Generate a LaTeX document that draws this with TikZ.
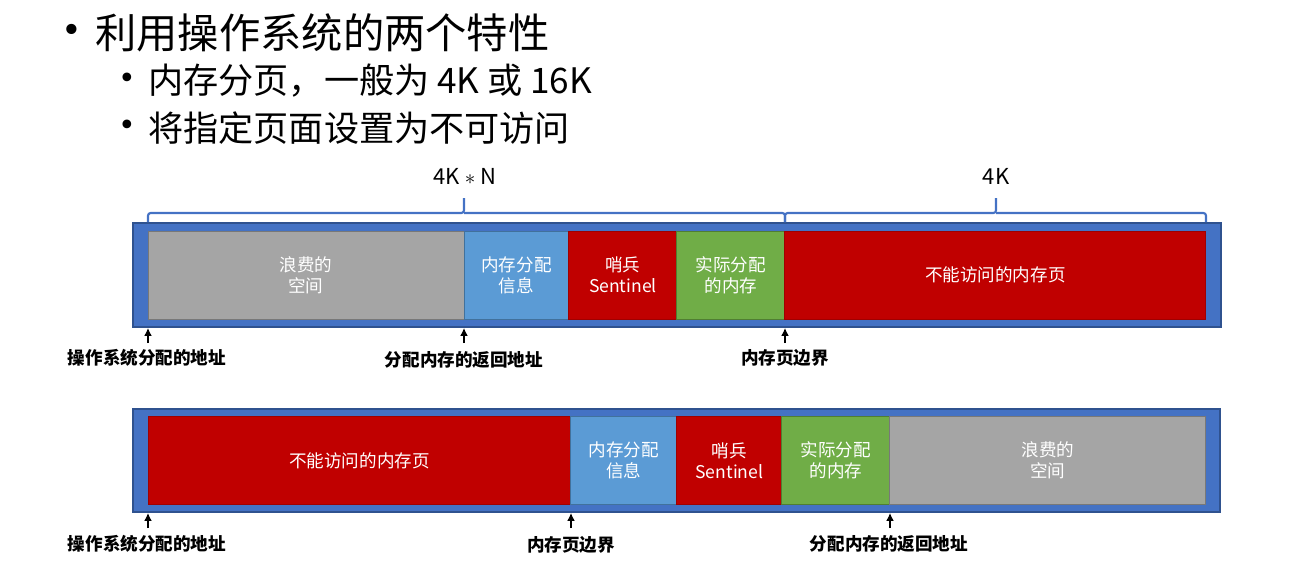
\documentclass[tikz,border=0pt]{standalone}
\usepackage{fontspec}
\setmainfont{Noto Sans CJK SC}
\newfontfamily\bulletfont{DejaVu Sans}
\usetikzlibrary{positioning}
\usetikzlibrary{arrows.meta}

\definecolor{barblue}{HTML}{4472C4}
\definecolor{barline}{HTML}{2F528F}
\definecolor{wastegray}{HTML}{A5A5A5}
\definecolor{wastegrayline}{HTML}{787878}
\definecolor{infoblue}{HTML}{5B9BD5}
\definecolor{infoblueline}{HTML}{41719C}
\definecolor{pagered}{HTML}{C00000}
\definecolor{pageredline}{HTML}{A00000}
\definecolor{usedgreen}{HTML}{70AD47}
\definecolor{usedgreenline}{HTML}{507E32}

\begin{document}
\begin{tikzpicture}[x=0.02cm, y=-0.02cm,
    bar/.style={draw=barline, fill=barblue, line width=0.6pt},
    cell/.style={draw=#1line, fill=#1, line width=0.5pt, minimum height=1.76cm,
        inner sep=0pt, outer sep=0pt, text=white, align=center,
        font=\fontsize{10}{12}\selectfont},
    brace/.style={draw=barblue, line width=1.2pt, rounded corners=1.5pt},
    ptr/.style={-{Latex[length=4.5pt,width=4.5pt]}, line width=0.8pt},
    addr/.style={font=\fontsize{10}{12}\selectfont\bfseries, inner sep=1pt, anchor=north},
    size/.style={font=\fontsize{12.5}{15}\selectfont},
    mark1/.style={font=\bulletfont\fontsize{20}{24}\selectfont, inner sep=0pt},
    mark2/.style={font=\bulletfont\fontsize{17}{20}\selectfont, inner sep=0pt},
    lvlone/.style={font=\fontsize{23.5}{28}\selectfont, inner sep=0pt, anchor=west},
    lvltwo/.style={font=\fontsize{20}{24}\selectfont, inner sep=0pt, anchor=west}]

    \useasboundingbox (0,0) rectangle (1292,572);

    % bullet text
    \node[mark1] (dot1) at (72,33) {•};
    \node[lvlone] (title) at (95,33) {利用操作系统的两个特性};
    \node[mark2] (dot2) at (127,81) {•};
    \node[lvltwo] (pagesize) at (148,81) {内存分页，一般为 4K 或 16K};
    \node[mark2] (dot3) at (127,128) {•};
    \node[lvltwo] (noaccess) at (148,128) {将指定页面设置为不可访问};

    % top layout
    \draw[bar] (133,223) rectangle (1221,327);
    \node[cell=wastegray, minimum width=6.32cm, anchor=west] (waste) at (148,275) {浪费的\\空间};
    \node[cell=infoblue, minimum width=2.10cm, right=0pt of waste] (info) {内存分配\\信息};
    \node[cell=pagered, minimum width=2.16cm, right=0pt of info] (sentinel) {哨兵\\Sentinel};
    \node[cell=usedgreen, minimum width=2.16cm, right=0pt of sentinel] (used) {实际分配\\的内存};
    \node[cell=pagered, minimum width=8.42cm, right=0pt of used] (guard) {不能访问的内存页};

    % braces
    \draw[brace] (148,222) |- (464,213) -- (464,198);
    \draw[brace] (464,213) -| (785,222);
    \draw[brace] (785,222) |- (996,213) -- (996,198);
    \draw[brace] (996,213) -| (1206,222);
    \node[size] (nsize) at (465,176) {4K $*$ N};
    \node[size] (onesize) at (996,176) {4K};

    % top pointers
    \coordinate (p1) at (148,328);
    \coordinate (p2) at (464,328);
    \coordinate (p3) at (785,328);
    \node[addr] (osaddr) at (147,347) {操作系统分配的地址};
    \node[addr] (retaddr) at (464,349) {分配内存的返回地址};
    \node[addr] (border) at (785,347) {内存页边界};
    \draw[ptr] (148,343) -- (p1);
    \draw[ptr] (464,343) -- (p2);
    \draw[ptr] (785,343) -- (p3);

    % bottom layout
    \draw[bar] (133,409) rectangle (1220,512);
    \node[cell=pagered, minimum width=8.46cm, anchor=west] (guardb) at (148,460.5) {不能访问的内存页};
    \node[cell=infoblue, minimum width=2.12cm, right=0pt of guardb] (infob) {内存分配\\信息};
    \node[cell=pagered, minimum width=2.10cm, right=0pt of infob] (sentinelb) {哨兵\\Sentinel};
    \node[cell=usedgreen, minimum width=2.16cm, right=0pt of sentinelb] (usedb) {实际分配\\的内存};
    \node[cell=wastegray, minimum width=6.32cm, right=0pt of usedb] (wasteb) {浪费的\\空间};

    % bottom pointers
    \coordinate (q1) at (148,513);
    \coordinate (q2) at (571,513);
    \coordinate (q3) at (890,513);
    \node[addr] (osaddrb) at (147,533) {操作系统分配的地址};
    \node[addr] (borderb) at (571,534) {内存页边界};
    \node[addr] (retaddrb) at (889,533) {分配内存的返回地址};
    \draw[ptr] (148,528) -- (q1);
    \draw[ptr] (571,528) -- (q2);
    \draw[ptr] (890,528) -- (q3);
\end{tikzpicture}
\end{document}
